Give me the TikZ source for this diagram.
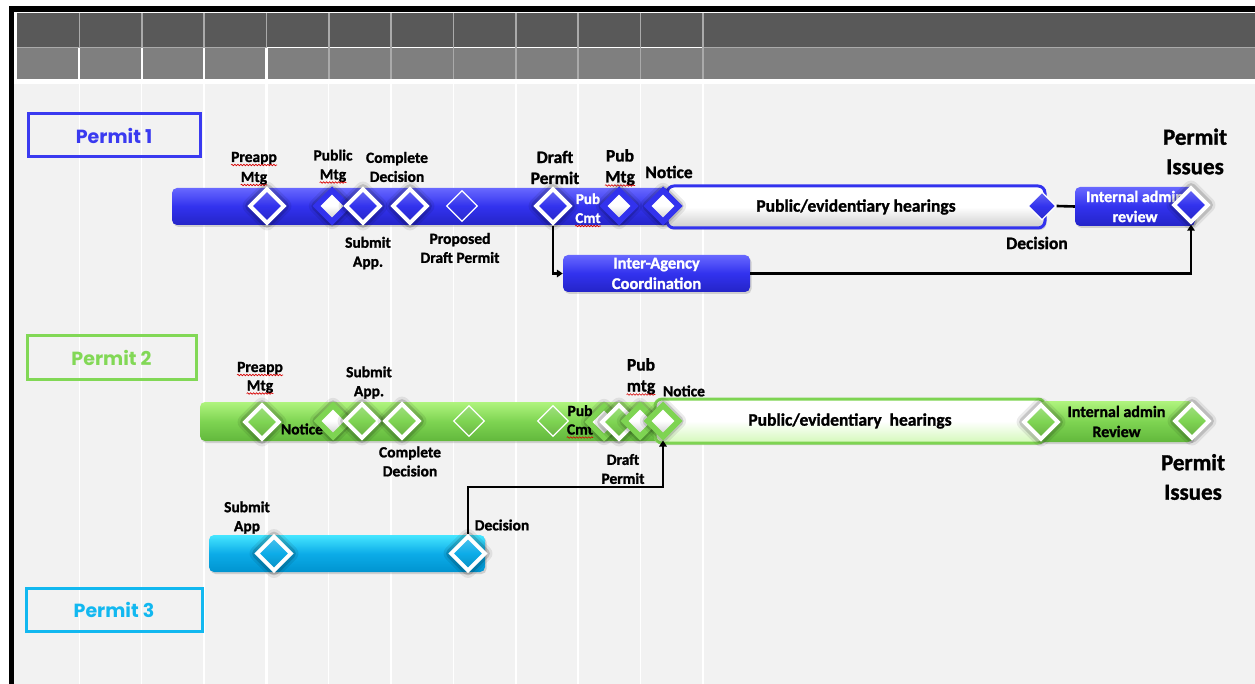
\documentclass[tikz,border=0pt]{standalone}
\usepackage{fontspec}
\setmainfont{Carlito}[BoldFeatures={FakeBold=1.3}]
\newfontfamily\pfont{Poppins}
\usetikzlibrary{shapes.geometric,arrows.meta,shadows,decorations.pathmorphing}
\newcommand\fsz[2]{\fontsize{#1}{#2}\selectfont\bfseries}
\newcommand\sq[1]{\draw[squig] ([yshift=-3pt]#1.base west) -- ([yshift=-3pt]#1.base east);}
\definecolor{bB}{RGB}{50,50,238}
\definecolor{bL}{RGB}{104,104,255}
\definecolor{bD}{RGB}{36,36,200}
\definecolor{gB}{RGB}{126,212,82}
\definecolor{gL}{RGB}{176,244,126}
\definecolor{gD}{RGB}{98,184,60}
\definecolor{cB}{RGB}{12,172,232}
\definecolor{cL}{RGB}{70,230,255}
\definecolor{cD}{RGB}{0,148,208}
\definecolor{tB}{RGB}{58,58,240}
\definecolor{tG}{RGB}{130,216,86}
\definecolor{tC}{RGB}{18,184,240}
\definecolor{bgc}{RGB}{242,242,242}
\definecolor{hdA}{RGB}{89,89,89}
\definecolor{hdB}{RGB}{127,127,127}
\definecolor{hdL}{RGB}{170,170,170}
\tikzset{
  lbl/.style={font=\fsz{15.5}{19}, align=center, inner sep=0, text=black},
  lblm/.style={font=\fsz{17.5}{21}, align=center, inner sep=0, text=black},
  lblb/.style={font=\fsz{23}{29.5}, align=center, inner sep=0, text=black},
  squig/.style={draw=red!85!black, line width=0.6, decorate,
     decoration={snake, amplitude=0.8pt, segment length=3pt}},
  ptag/.style={draw=#1, line width=3, minimum width=172, minimum height=43, inner sep=0, text=#1, font=\pfont\fsz{19}{22}},
  bar/.style n args={3}{rectangle, rounded corners=5, minimum height=37, inner sep=0,
     top color=#1, bottom color=#3, middle color=#2,
     drop shadow={shadow xshift=1.5pt, shadow yshift=-2pt, opacity=0.3}},
  hear/.style 2 args={rectangle, rounded corners=7, draw=#1, line width=3, inner sep=0,
     top color=white, bottom color=#2, middle color=white,
     font=\fsz{17.5}{21}, text=black,
     drop shadow={shadow xshift=1.5pt, shadow yshift=-2pt, opacity=0.3}},
  boxtxt/.style={font=\fsz{16}{20}, align=center},
  glow/.style={preaction={draw=black, draw opacity=0.08, line width=15, line join=round},
               preaction={draw=black, draw opacity=0.15, line width=10, line join=round}},
  dm/.style={diamond, aspect=1, inner sep=0, minimum size=35.5, draw=white, line width=3.9,
     top color=#1!72!white, bottom color=#1!82!black, middle color=#1, glow},
  dmi/.style={diamond, aspect=1, inner sep=0, minimum size=33.5, draw=#1, line width=5.5,
     top color=white, bottom color=black!22, middle color=white, glow},
  dmt/.style={diamond, aspect=1, inner sep=0, minimum size=31, draw=white, line width=1.3,
     top color=#1!75!white, bottom color=#1!85!black, middle color=#1},
  conn/.style={draw=black, line width=2.6},
  arr/.style={conn, -{Triangle[length=6pt,width=7.5pt]}}
}
\begin{document}
\begin{tikzpicture}[x=1pt,y=-1pt]
\useasboundingbox (0,0) rectangle (1255,684);
% ---------- background and frame ----------
\fill[white] (0,0) rectangle (1255,684);
\fill[black] (8.5,6.5) rectangle (1255,12.5);
\fill[black] (8.5,6.5) rectangle (14,684);
\fill[hdA] (17,13.5) rectangle (1255,47);
\fill[hdB] (17,48.5) rectangle (1255,79);
\fill[bgc] (14,84) rectangle (1255,684);
\draw[hdL, line width=1.5] (17,47.7) -- (1255,47.7);
\draw[white, line width=1.5] (266,47.7) -- (703,47.7);
\foreach \k in {1,...,11}{
  \draw[hdL, line width=1.6] ({17+62.35*\k},13.5) -- ({17+62.35*\k},79);
}
\foreach \k in {1,2,3}{
  \draw[white, line width=1.8] ({17+62.35*\k},47.7) -- ({17+62.35*\k},79);
}
\foreach \k in {1,2,3,5,6,7,8,9,10,11}{
  \draw[white, line width=1.4] ({17+62.35*\k},84) -- ({17+62.35*\k},684);
}
\draw[white, line width=3.5] (266.4,47.7) -- (266.4,684);
% ---------- permit tags ----------
\node[ptag=tB] (tag1) at (114,135.5) {Permit 1};
\node[ptag=tG, minimum width=169] (tag2) at (111.5,357.5) {Permit 2};
\node[ptag=tC, minimum width=176] (tag3) at (114,609.5) {Permit 3};
% ---------- bars ----------
\node[bar={bL}{bB}{bD}, minimum width=498] (bar1) at (421,206.5) {};
\node[hear={bB}{black!20}, minimum width=378, minimum height=42] (hear1) at (856,207) {Public/evidentiary hearings};
\node[bar={bL}{bB}{bD}, minimum width=120, minimum height=39, boxtxt, text=white] (iar1) at (1135,206.5) {Internal admin\\review};
\node[bar={bL}{bB}{bD}, minimum width=187, boxtxt, font=\fsz{16.5}{20.5}, text=white] (iac1) at (656.5,273.5) {Inter-Agency\\Coordination};
\node[bar={gL}{gB}{gD}, minimum width=460, minimum height=39] (bar2) at (430,421.5) {};
\node[hear={gB}{gL!55!white}, minimum width=390, minimum height=44] (hear2) at (850,421) {Public/evidentiary\ \ hearings};
\node[bar={gL}{gB}{gD}, minimum width=153, minimum height=41, boxtxt, text=black] (iar2) at (1116.5,421.5) {Internal admin\\Review};
\node[bar={cL}{cB}{cD}, minimum width=276] (bar3) at (347,553.5) {};
% ---------- labels permit 1 ----------
\node[lbl, anchor=base] (lpre1a) at (254,162) {Preapp};
\node[lbl, anchor=base] (lpre1b) at (254,182) {Mtg};
\node[lbl, anchor=base] (lpm1a) at (333,160.5) {Public};
\node[lbl, anchor=base] (lpm1b) at (333,179.5) {Mtg};
\node[lbl] (lcd1) at (397,167) {Complete\\Decision};
\node[lbl] (lsa1) at (368,253) {Submit\\App.};
\node[lbl] (lpdp1) at (460,248) {Proposed\\Draft Permit};
\node[lblm] (ldp1) at (555,167.5) {Draft\\Permit};
\node[lbl, font=\fsz{15}{19}, text=white, anchor=base] (lpc1a) at (588,204) {Pub};
\node[lbl, font=\fsz{15}{19}, text=white, anchor=base] (lpc1b) at (588,223) {Cmt};
\node[lblm, anchor=base] (lpmt1a) at (620,161.5) {Pub};
\node[lblm, anchor=base] (lpmt1b) at (620,182.5) {Mtg};
\node[lblm] (lno1) at (669,172) {Notice};
\node[lblm] (lde1) at (1037,243) {Decision};
\node[lblb] (lpi1) at (1195,151.5) {Permit\\Issues};
\sq{lpre1a}\sq{lpre1b}\sq{lpm1b}\sq{lpc1b}\sq{lpmt1b}
% ---------- labels permit 2 ----------
\node[lbl, anchor=base] (lpre2a) at (260,372) {Preapp};
\node[lbl, anchor=base] (lpre2b) at (260,390.5) {Mtg};
\node[lbl] (lnoa2) at (302,429) {Notice};
\node[lbl] (lsa2) at (369,382.5) {Submit\\App.};
\node[lbl] (lcd2) at (410,461.5) {Complete\\Decision};
\node[lbl, anchor=base] (lpc2a) at (580,416) {Pub};
\node[lbl, anchor=base] (lpc2b) at (580,434.5) {Cmt};
\node[lblm, anchor=base] (lpmt2a) at (641,370.5) {Pub};
\node[lblm, anchor=base] (lpmt2b) at (641,391.5) {mtg};
\node[lbl] (lno2) at (684,391) {Notice};
\node[lbl] (ldp2) at (623,469) {Draft\\Permit};
\node[lblb] (lpi2) at (1193,477) {Permit\\Issues};
\sq{lpre2a}\sq{lpre2b}\sq{lpc2b}\sq{lpmt2b}
% ---------- labels permit 3 ----------
\node[lbl] (lsa3) at (247,517.5) {Submit\\App};
\node[lbl] (lde3) at (502,525) {Decision};
% ---------- diamonds permit 1 ----------
\node[dm=bB] (dpre1) at (267,206) {};
\node[dmi=bB] (dpm1) at (332,206) {};
\node[dm=bB] (dsa1) at (363,206) {};
\node[dm=bB] (dcd1) at (410,206) {};
\node[dmt=bB] (dpdp1) at (462,206) {};
\node[dm=bB] (ddp1) at (553,206) {};
\node[dmi=bB] (dpmt1) at (619,206) {};
\node[dmi=bB] (dno1) at (663,206) {};
\node[dmt=bB, minimum size=28] (dde1) at (1042,206) {};
\node[dm=bB] (dpi1) at (1191,205) {};
% ---------- diamonds permit 2 ----------
\node[dm=gB] (dpre2) at (262,422) {};
\node[dmi=gB] (dnoa2) at (333,421) {};
\node[dm=gB] (dsa2) at (362,421) {};
\node[dm=gB] (dcd2) at (402,421) {};
\node[dmt=gB] (du12) at (469,421) {};
\node[dmt=gB] (du22) at (553,421) {};
\node[dmi=gB] (dx2) at (604,422) {};
\node[dm=gB] (ddp2) at (619,422) {};
\node[dmi=gB] (dpmt2) at (640,421) {};
\node[dmi=gB] (dno2) at (663,421) {};
\node[dm=gB] (dde2) at (1041,422) {};
\node[dm=gB] (dpi2) at (1192,421) {};
% ---------- diamonds permit 3 ----------
\node[dm=cB] (dsa3) at (274,553.5) {};
\node[dm=cB] (dde3) at (468,553.5) {};
% ---------- connectors ----------
\draw[conn] (dde1.east) -- (iar1.west);
\draw[arr] (ddp1.south) |- (iac1.west);
\draw[arr] (iac1.east) -| (dpi1.south);
\coordinate (k3) at (468,487);
\draw[arr] (dde3.north) -- (k3) -| (dno2.south);
\end{tikzpicture}
\end{document}
